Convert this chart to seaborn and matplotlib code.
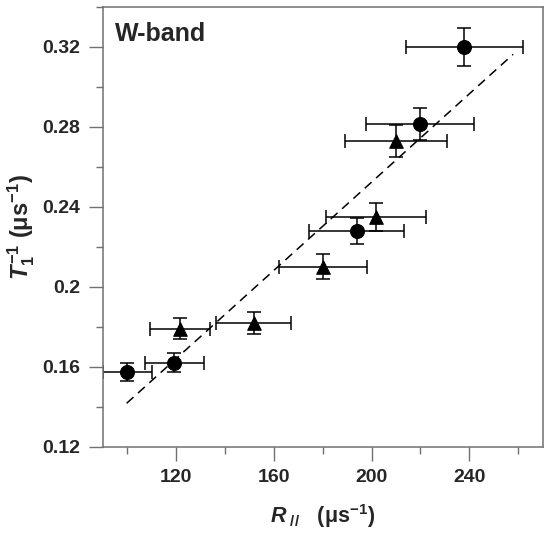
import numpy as np
import matplotlib
matplotlib.use("Agg")
import matplotlib.pyplot as plt
import seaborn as sns
from matplotlib.ticker import MultipleLocator, FuncFormatter

# values (W-band)
circ_x = [100.0, 119.3, 193.9, 219.8, 237.9]
circ_y = [0.1575, 0.162, 0.228, 0.2814, 0.320]
circ_xerr = [10.0, 12.0, 19.4, 22.0, 24.0]
circ_yerr = [0.0046, 0.0048, 0.0066, 0.0078, 0.0095]

tri_x = [121.6, 151.8, 180.2, 201.8, 210.0]
tri_y = [0.1791, 0.182, 0.210, 0.235, 0.273]
tri_xerr = [12.2, 15.3, 18.0, 20.3, 21.0]
tri_yerr = [0.0052, 0.0055, 0.0063, 0.0070, 0.0080]

# dashed fit line end points
fit_x = [99.8, 257.9]
fit_y = [0.1417, 0.3162]

sns.set_style("ticks")
plt.rcParams['font.family'] = ['Liberation Sans', 'DejaVu Sans']
plt.rcParams['font.weight'] = 'bold'
plt.rcParams['mathtext.fontset'] = 'custom'
plt.rcParams['mathtext.rm'] = 'Liberation Sans:bold'
plt.rcParams['mathtext.bf'] = 'Liberation Sans:bold'
plt.rcParams['mathtext.it'] = 'Liberation Sans:bold:italic'

fig = plt.figure(figsize=(5.5, 5.33), dpi=100)
ax = fig.add_axes([0.1867, 0.1619, 0.80, 0.8255])

sns.lineplot(x=fit_x, y=fit_y, ax=ax, color='black', lw=1.1,
             dashes=False, linestyle=(0, (6, 4)))

ax.errorbar(circ_x, circ_y, xerr=circ_xerr, yerr=circ_yerr, fmt='none',
            ecolor='black', elinewidth=1.1, capsize=5, capthick=1.1)
ax.errorbar(tri_x, tri_y, xerr=tri_xerr, yerr=tri_yerr, fmt='none',
            ecolor='black', elinewidth=1.1, capsize=5, capthick=1.1)
sns.scatterplot(x=circ_x, y=circ_y, ax=ax, marker='o', s=100,
                color='black', edgecolor='black', zorder=3)
sns.scatterplot(x=tri_x, y=tri_y, ax=ax, marker='^', s=95,
                color='black', edgecolor='black', zorder=3)

ax.set_xlim(90, 270)
ax.set_ylim(0.12, 0.34)
ax.xaxis.set_major_locator(MultipleLocator(40))
ax.xaxis.set_minor_locator(MultipleLocator(20))
ax.yaxis.set_major_locator(MultipleLocator(0.04))
ax.yaxis.set_minor_locator(MultipleLocator(0.02))
ax.set_xticks([120, 160, 200, 240])
ax.set_yticks([0.12, 0.16, 0.2, 0.24, 0.28, 0.32])
ax.yaxis.set_major_formatter(FuncFormatter(lambda v, p: '%g' % round(v, 2)))

for s in ax.spines.values():
    s.set_color('#707070')
    s.set_linewidth(1.1)
ax.tick_params(which='major', length=10, width=1.0, color='#707070',
               labelsize=14, pad=6)
ax.tick_params(which='minor', length=5, width=1.0, color='#707070')
for lab in ax.get_xticklabels() + ax.get_yticklabels():
    lab.set_fontweight('bold')

ax.set_xlabel(r'$R_{\ //}$   (μs$^{-1}$)', fontsize=15.5, fontweight='bold')
ax.set_ylabel(r'$T_1^{-1}$ (μs$^{-1}$)', fontsize=17, fontweight='bold')
ax.xaxis.set_label_coords(0.5, -0.125)
ax.yaxis.set_label_coords(-0.15, 0.5)

ax.text(0.028, 0.923, 'W-band', transform=ax.transAxes, fontsize=18,
        fontweight='bold', ha='left', va='baseline')

fig.savefig('out.png', dpi=100)
